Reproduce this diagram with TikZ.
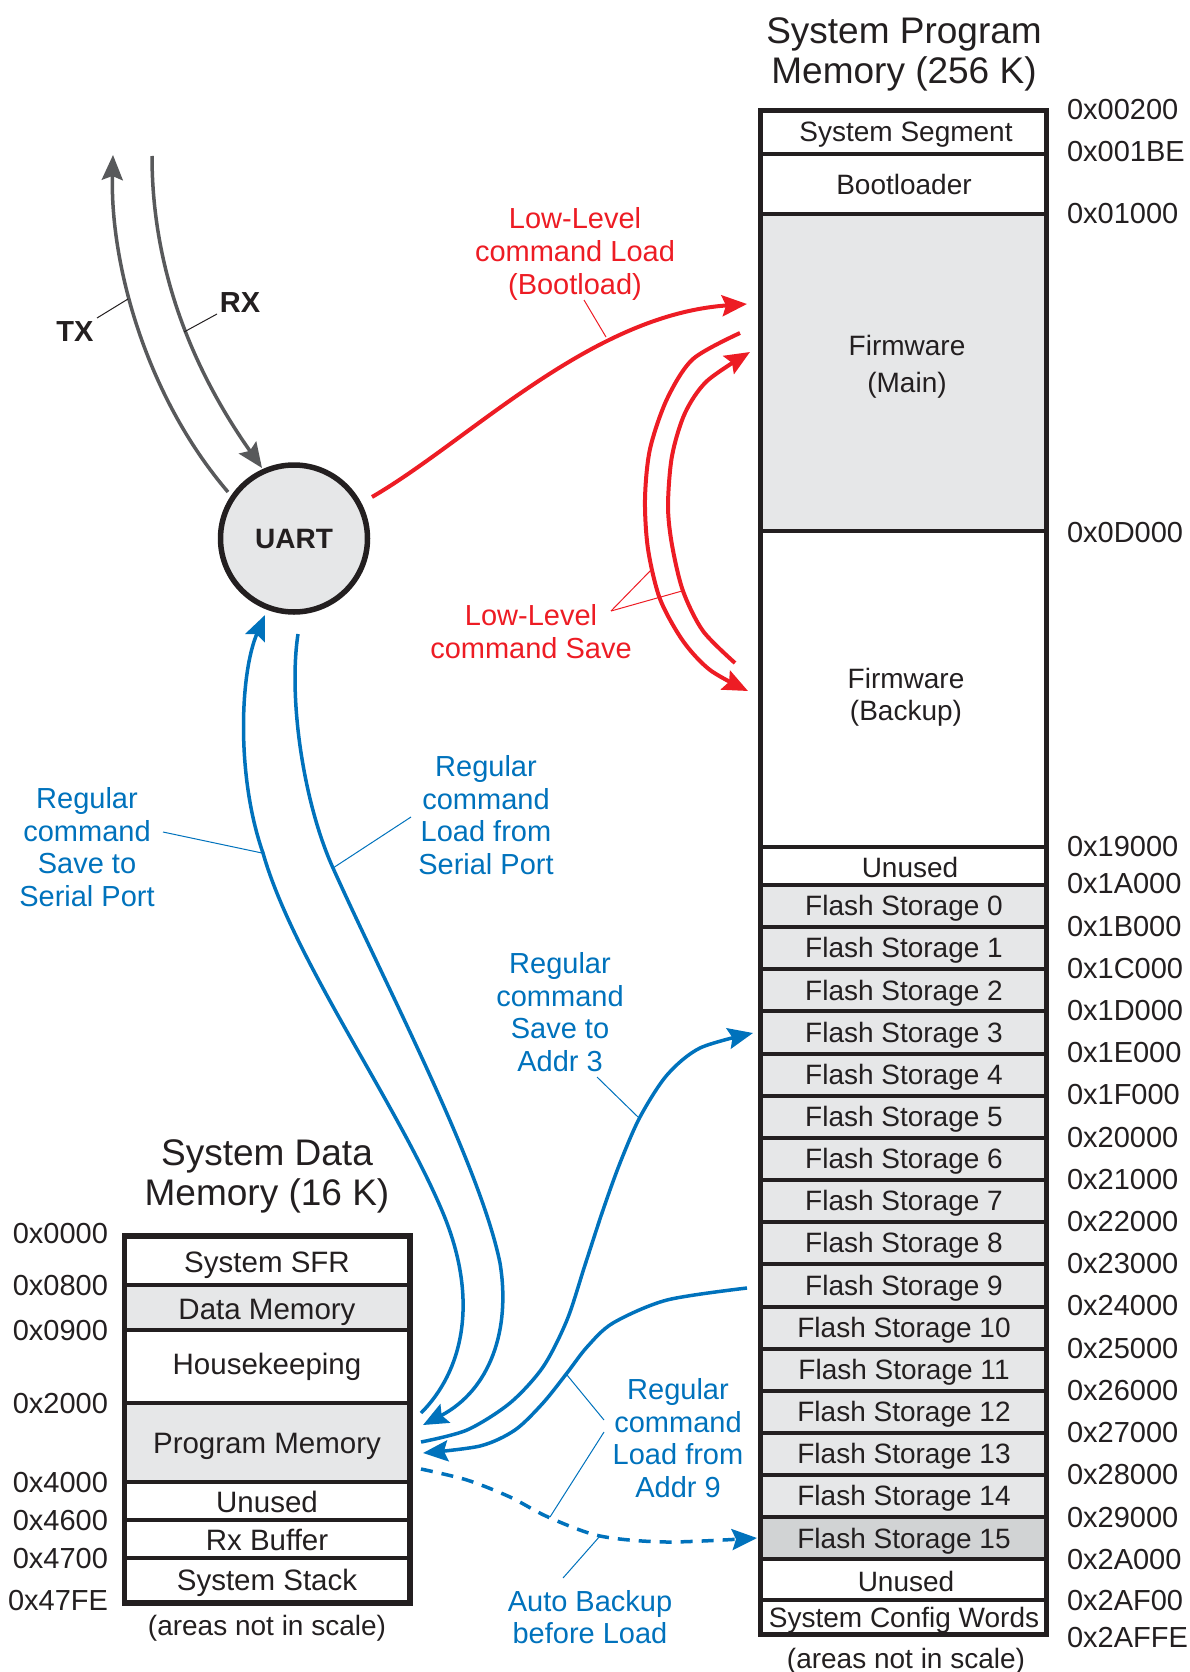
\documentclass[tikz,border=0pt]{standalone}
\usepackage{fontspec}
\setmainfont{Liberation Sans}
\usetikzlibrary{arrows.meta}
\definecolor{ink}{HTML}{231F20}
\definecolor{cellgray}{HTML}{E6E7E8}
\definecolor{cellgrayd}{HTML}{D1D3D4}
\definecolor{lowred}{HTML}{ED1C24}
\definecolor{regblue}{HTML}{0072BC}
\definecolor{wire}{HTML}{58595B}

\begin{document}
\begin{tikzpicture}[x=1pt,y=-1pt,
  every node/.style={inner sep=0pt, outer sep=0pt, text=ink},
  celltxt/.style={font=\fontsize{28}{32}\selectfont},
  celltxtl/.style={font=\fontsize{29.5}{32}\selectfont},
  addr/.style={font=\fontsize{29}{32}\selectfont, anchor=west},
  addrl/.style={font=\fontsize{29}{32}\selectfont, anchor=east},
  memtitle/.style={font=\fontsize{37}{40}\selectfont, align=center},
  note/.style={font=\fontsize{29}{32.7}\selectfont, align=center},
  frame/.style={line width=5.5pt, draw=ink},
  divider/.style={line width=4pt, draw=ink},
  tip/.style={-{Stealth[length=25pt,width=21pt,inset=4pt]}},
  redflow/.style={tip, draw=lowred, line width=4pt},
  blueflow/.style={tip, draw=regblue, line width=3.5pt},
  grayflow/.style={tip, draw=wire, line width=3.5pt},
  leader/.style={line width=1pt},
]
\useasboundingbox (0,0) rectangle (1190,1672);

% ---------------- System Program Memory ----------------
\fill[cellgray] (760.5,214) rectangle (1046.5,531);
\fill[cellgray] (760.5,885) rectangle (1046.5,1517.25);
\fill[cellgrayd] (760.5,1517.25) rectangle (1046.5,1559.4);
\foreach \y in {154,214,531,847,885,1600}
  \draw[divider] (760.5,\y) -- (1046.5,\y);
\foreach \k in {1,...,16}{
  \pgfmathsetmacro\yy{885+42.15*\k}
  \draw[divider] (760.5,\yy) -- (1046.5,\yy);
}
\draw[frame] (760.5,110.5) rectangle (1046.5,1634.5);

\node[memtitle] (progtitle) at (904,54) {System Program\\Memory (256 K)};
\node[celltxt] (sysseg) at (906,135) {System Segment};
\node[celltxt] (boot) at (904,184.5) {Bootloader};
\node[celltxt, align=center, font=\fontsize{28}{37.5}\selectfont] (fwmain) at (907,367) {Firmware\\(Main)};
\node[celltxt, align=center] (fwback) at (906,697) {Firmware\\(Backup)};
\node[celltxt] (unusedA) at (910,867) {Unused};
\foreach \k in {0,...,15}{
  \pgfmathsetmacro\yy{908.5+42.15*\k}
  \node[celltxt] (fs\k) at (904,\yy) {Flash Storage \k};
}
\node[celltxt] (unusedB) at (906,1581) {Unused};
\node[celltxt] (cfg) at (904,1620.5) {System Config Words};
\node[celltxt] (scaleR) at (906,1661) {(areas not in scale)};

% program memory addresses
\node[addr] (a00200) at (1067,110) {0x00200};
\node[addr] (a001BE) at (1067,152) {0x001BE};
\node[addr] (a01000) at (1067,214) {0x01000};
\node[addr] (a0D000) at (1067,533) {0x0D000};
\node[addr] (a19000) at (1067,847) {0x19000};
\foreach \t/\k in {1A000/0,1B000/1,1C000/2,1D000/3,1E000/4,1F000/5,20000/6,21000/7,
                   22000/8,23000/9,24000/10,25000/11,26000/12,27000/13,28000/14,29000/15,2A000/16}{
  \pgfmathsetmacro\yy{884+42.2*\k}
  \node[addr] (a\t) at (1067,\yy) {0x\t};
}
\node[addr] (a2AF00) at (1067,1600.5) {0x2AF00};
\node[addr] (a2AFFE) at (1067,1637.5) {0x2AFFE};

% ---------------- System Data Memory ----------------
\fill[cellgray] (124.5,1285) rectangle (410,1330);
\fill[cellgray] (124.5,1403) rectangle (410,1482);
\foreach \y in {1285,1330,1403,1482,1520,1558}
  \draw[divider] (124.5,\y) -- (410,\y);
\draw[frame] (124.5,1236) rectangle (410,1603);

\node[memtitle] (datatitle) at (267,1176) {System Data\\Memory (16 K)};
\node[celltxtl] (sfr) at (267,1265.5) {System SFR};
\node[celltxtl] (datamem) at (267,1312) {Data Memory};
\node[celltxtl] (house) at (267,1366.5) {Housekeeping};
\node[celltxtl] (progmem) at (267,1446) {Program Memory};
\node[celltxtl] (unusedC) at (267,1502) {Unused};
\node[celltxtl] (rxbuf) at (267,1540) {Rx Buffer};
\node[celltxtl] (stack) at (267,1583) {System Stack};
\node[celltxt] (scaleL) at (267,1628) {(areas not in scale)};

\node[addrl] (d0000) at (108,1234) {0x0000};
\node[addrl] (d0800) at (108,1285.5) {0x0800};
\node[addrl] (d0900) at (108,1330.6) {0x0900};
\node[addrl] (d2000) at (108,1403.5) {0x2000};
\node[addrl] (d4000) at (108,1482.7) {0x4000};
\node[addrl] (d4600) at (108,1520) {0x4600};
\node[addrl] (d4700) at (108,1558) {0x4700};
\node[addrl] (d47FE) at (108,1600.6) {0x47FE};

% ---------------- UART ----------------
\node[circle, draw=ink, line width=5.5pt, fill=cellgray, minimum size=147pt,
      font=\bfseries\fontsize{28}{32}\selectfont] (uart) at (294,538.5) {UART};

% serial lines
\coordinate (txA) at (228,492);
\coordinate (txB) at (113,155);
\coordinate (rxA) at (152,156);
\coordinate (rxB) at (262,468);
\draw[grayflow] (txA) .. controls (145,395) and (110,262) .. (txB);
\draw[grayflow] (rxA) .. controls (152,280) and (200,380) .. (rxB);
\node[font=\bfseries\fontsize{29}{32}\selectfont] (txlbl) at (75,332) {TX};
\node[font=\bfseries\fontsize{29}{32}\selectfont] (rxlbl) at (240,303) {RX};
\draw[leader, draw=ink] (97,318) -- (128,299);
\draw[leader, draw=ink] (217,314) -- (184,332);

% ---------------- low-level commands ----------------
\coordinate (ldA) at (372,497);
\coordinate (ldB) at (747,304);
\draw[redflow] (ldA) .. controls (470,440) and (590,315) .. (ldB);

\coordinate (svOA) at (740,333);
\coordinate (svOB) at (748,691);
\draw[redflow] plot[smooth] coordinates {(svOA) (693,359) (667,399) (650,449) (645,499) (648,549) (660,599) (683,641) (710,670) (svOB)};

\coordinate (svIA) at (735,663);
\coordinate (svIB) at (750,352);
\draw[redflow] plot[smooth] coordinates {(svIA) (703,631) (683,591) (672,545) (668,506) (672,456) (685,413) (707,381) (svIB)};

\node[note, text=lowred, font=\fontsize{29}{33}\selectfont] (lblLd) at (575,254) {Low-Level\\command Load\\(Bootload)};
\node[note, text=lowred, font=\fontsize{29}{33}\selectfont] (lblSv) at (531,632) {Low-Level\\command Save};
\draw[leader, draw=lowred] (584,300) -- (606,337);
\draw[leader, draw=lowred] (611,611) -- (652,569);
\draw[leader, draw=lowred] (611,611) -- (682,591);

% ---------------- regular commands ----------------
\coordinate (ssA) at (421,1413);
\coordinate (ssB) at (265,615);
\draw[blueflow] (ssA) .. controls (462,1372) and (480,1302) .. (443,1213)
                      .. controls (397,1103) and (293,959) .. (263,853)
                      .. controls (236,776) and (240,673) .. (ssB);

\coordinate (lsA) at (298,634);
\coordinate (lsB) at (423,1425);
\draw[blueflow] (lsA) .. controls (288,700) and (304,804) .. (333,868)
                      .. controls (386,986) and (480,1165) .. (500,1263)
                      .. controls (511,1330) and (490,1390) .. (lsB);

\coordinate (a3A) at (421,1442);
\coordinate (a3B) at (753,1033);
\draw[blueflow] plot[smooth] coordinates {(a3A) (467,1430) (510,1403) (543,1367) (567,1320) (585,1265) (603,1210) (620,1163) (640,1117) (667,1075) (700,1048) (a3B)};

\coordinate (a9A) at (747,1288);
\coordinate (a9B) at (423,1453);
\draw[blueflow] plot[smooth] coordinates {(a9A) (667,1300) (613,1323) (587,1347) (567,1373) (543,1403) (515,1430) (480,1446) (a9B)};

\coordinate (bkA) at (421,1469);
\coordinate (bkB) at (757,1538);
\draw[blueflow, dash pattern=on 12pt off 9pt] plot[smooth] coordinates {(bkA) (467,1480) (510,1497) (548,1517) (600,1536) (667,1542) (bkB)};

\node[note, text=regblue] (lblSS) at (87,847) {Regular\\command\\Save to\\Serial Port};
\node[note, text=regblue] (lblLS) at (486,815) {Regular\\command\\Load from\\Serial Port};
\node[note, text=regblue] (lblA3) at (560,1012) {Regular\\command\\Save to\\Addr 3};
\node[note, text=regblue] (lblA9) at (678,1438) {Regular\\command\\Load from\\Addr 9};
\node[note, text=regblue] (lblAB) at (590,1617) {Auto Backup\\before Load};

\draw[leader, draw=regblue] (163,832) -- (262,853);
\draw[leader, draw=regblue] (411,817) -- (333,868);
\draw[leader, draw=regblue] (597,1077) -- (638,1117);
\draw[leader, draw=regblue] (604,1420) -- (567,1375);
\draw[leader, draw=regblue] (604,1432) -- (550,1517);
\draw[leader, draw=regblue] (563,1578) -- (600,1536);
\end{tikzpicture}
\end{document}
